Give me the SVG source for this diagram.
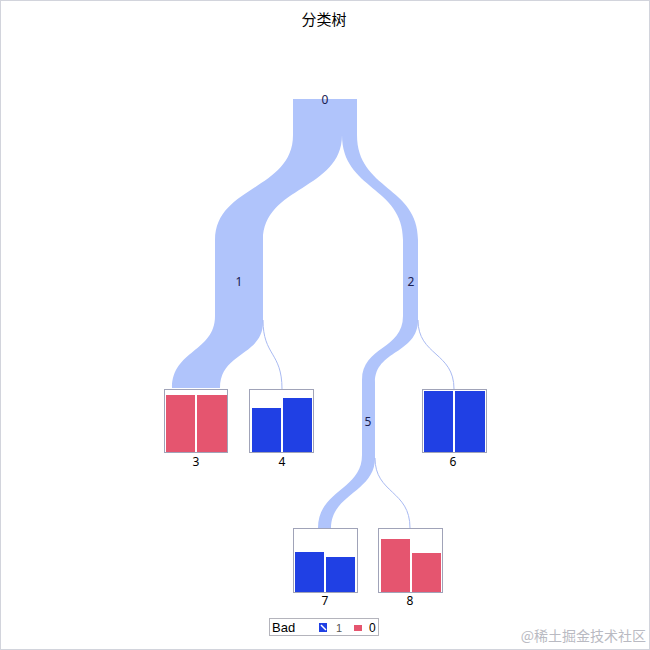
<svg xmlns="http://www.w3.org/2000/svg" width="650" height="650" viewBox="0 0 650 650">
<style>
.band{fill:#b0c4fb;stroke:none}
.thin{fill:none;stroke:#a9baf2;stroke-width:1}
.box{fill:#ffffff;stroke:#a0a3b8;stroke-width:1}
.blue{fill:#2040e4}
.red{fill:#e5556f}
.blab{font-family:"Noto Sans","DejaVu Sans",sans-serif;font-size:12px;fill:#1a2050;text-anchor:middle}
.nlab{font-family:"Noto Sans","DejaVu Sans",sans-serif;font-size:12px;fill:#000;text-anchor:middle}
</style>
<rect x="0.5" y="0.5" width="649" height="649" fill="#ffffff" stroke="#d2d4dc" stroke-width="1"/>
<text x="324" y="25" font-family="'Noto Sans CJK SC',sans-serif" font-size="15" text-anchor="middle" fill="#000">分类树</text>
<g id="connectors">
<rect class="band" x="293" y="99" width="64" height="37"/>
<path class="band" d="M293,135 C293,190 215,186 215,240 L215,316 C215,352 172,350 172,388 L220,388 C220,352 263,356 263,322 L263,240 C263,186 342,190 342,135 Z"/>
<path class="band" d="M342,135 C342,190 403,186 403,240 L403,316 C403,350 362,346 362,380 L362,455 C362,490 318,490 318,528 L331,528 C331,494 375,492 375,458 L375,382 C375,350 418,354 418,320 L418,240 C418,186 357,190 357,135 Z"/>
<path class="thin" d="M263,320 C263,356 282,352 282,389"/>
<path class="thin" d="M418,320 C418,356 454,352 454,389"/>
<path class="thin" d="M375,458 C375,494 410,490 410,528"/>
<text class="blab" x="325" y="104">0</text>
<text class="blab" x="239" y="286">1</text>
<text class="blab" x="411" y="286">2</text>
<text class="blab" x="368" y="426">5</text>
</g>
<g id="node3">
<rect class="box" x="164.5" y="389.5" width="63" height="63"/>
<rect class="red" x="166" y="395" width="29" height="57"/>
<rect class="red" x="197" y="395" width="30" height="57"/>
<text class="nlab" x="196" y="466">3</text>
</g>
<g id="node4">
<rect class="box" x="249.5" y="389.5" width="64" height="63"/>
<rect class="blue" x="252" y="408" width="29" height="44"/>
<rect class="blue" x="283" y="398" width="29" height="54"/>
<text class="nlab" x="282" y="466">4</text>
</g>
<g id="node6">
<rect class="box" x="422.5" y="389.5" width="64" height="63"/>
<rect class="blue" x="424" y="391" width="29" height="61"/>
<rect class="blue" x="455" y="391" width="30" height="61"/>
<text class="nlab" x="453" y="466">6</text>
</g>
<g id="node7">
<rect class="box" x="293.5" y="528.5" width="64" height="64"/>
<rect class="blue" x="295" y="552" width="29" height="40"/>
<rect class="blue" x="326" y="557" width="29" height="35"/>
<text class="nlab" x="325" y="605">7</text>
</g>
<g id="node8">
<rect class="box" x="378.5" y="528.5" width="64" height="64"/>
<rect class="red" x="381" y="539" width="29" height="53"/>
<rect class="red" x="412" y="553" width="29" height="39"/>
<text class="nlab" x="410" y="605">8</text>
</g>
<g id="legend">
<rect x="269.5" y="618.5" width="109" height="17" fill="#ffffff" stroke="#b4b4bc" stroke-width="1"/>
<text x="272" y="632" font-family="'Liberation Sans',sans-serif" font-size="13" fill="#000">Bad</text>
<rect class="blue" x="319" y="623" width="8" height="9"/>
<path d="M321,625 L326,630" stroke="#ffffff" stroke-width="1.5"/>
<text x="336" y="632" font-family="'Liberation Sans',sans-serif" font-size="11" fill="#555">1</text>
<rect class="red" x="354" y="625" width="8" height="6"/>
<text x="369" y="632" font-family="'Liberation Sans',sans-serif" font-size="12" fill="#000">0</text>
</g>
<text x="646" y="641" font-family="'Noto Sans CJK SC',sans-serif" font-size="14" text-anchor="end" fill="#b9bac2">@稀土掘金技术社区</text>
</svg>
